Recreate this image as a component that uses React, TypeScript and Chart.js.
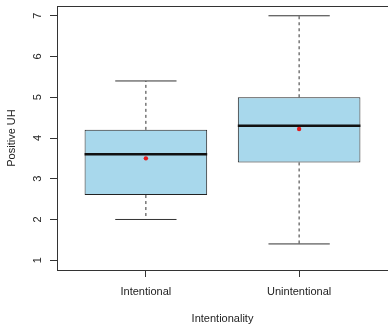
import React, { useEffect, useRef } from "react";
import { Chart, registerables } from "chart.js";

Chart.register(...registerables);

const categories = ["Intentional", "Unintentional"];
const q1 = [2.6, 3.4];
const medians = [3.6, 4.3];
const q3 = [4.2, 5.0];
const whiskerLow = [2.0, 1.4];
const whiskerHigh = [5.4, 7.0];
const means = [3.5, 4.22];
const yTicks = [1, 2, 3, 4, 5, 6, 7];
const xTitle = "Intentionality";
const yTitle = "Positive UH";

const BOX_HALF = 0.4;
const CAP_HALF = 0.2;

const frame = {
  id: "frame",
  afterDraw(chart: any) {
    const { ctx, chartArea } = chart;
    ctx.save();
    ctx.strokeStyle = "#333";
    ctx.lineWidth = 1;
    ctx.strokeRect(
      Math.round(chartArea.left) + 0.5,
      Math.round(chartArea.top) + 0.5,
      Math.round(chartArea.right - chartArea.left),
      Math.round(chartArea.bottom - chartArea.top)
    );
    ctx.restore();
  },
};

export default function App() {
  const ref = useRef<HTMLCanvasElement | null>(null);

  useEffect(() => {
    if (!ref.current) return;
    Chart.defaults.font.family = "'Liberation Sans', Arial, sans-serif";
    Chart.defaults.font.size = 11;
    Chart.defaults.color = "#222";

    const gap = (x: number) => ({ x, y: null as any });

    const boxes = categories.map((_, i) => ({ x: i + 1, y: [q1[i], q3[i]] }));
    const medianPts: any[] = [];
    const whiskerPts: any[] = [];
    const capPts: any[] = [];
    categories.forEach((_, i) => {
      const x = i + 1;
      medianPts.push({ x: x - BOX_HALF, y: medians[i] }, { x: x + BOX_HALF, y: medians[i] }, gap(x + 0.5));
      whiskerPts.push({ x, y: q3[i] }, { x, y: whiskerHigh[i] }, gap(x));
      whiskerPts.push({ x, y: q1[i] }, { x, y: whiskerLow[i] }, gap(x));
      capPts.push({ x: x - CAP_HALF, y: whiskerHigh[i] }, { x: x + CAP_HALF, y: whiskerHigh[i] }, gap(x));
      capPts.push({ x: x - CAP_HALF, y: whiskerLow[i] }, { x: x + CAP_HALF, y: whiskerLow[i] }, gap(x));
    });
    const meanPts = categories.map((_, i) => ({ x: i + 1, y: means[i] }));

    const chart = new Chart(ref.current, {
      type: "bar",
      data: {
        datasets: [
          {
            type: "line",
            data: whiskerPts,
            borderColor: "#333",
            borderWidth: 1,
            borderDash: [3, 3],
            pointRadius: 0,
            spanGaps: false,
            order: 5,
          } as any,
          {
            type: "line",
            data: capPts,
            borderColor: "#333",
            borderWidth: 1,
            pointRadius: 0,
            spanGaps: false,
            order: 4,
          } as any,
          {
            type: "bar",
            data: boxes,
            backgroundColor: "#A8D8EC",
            borderColor: "#222",
            borderWidth: 1,
            borderSkipped: false,
            categoryPercentage: 1,
            barPercentage: 0.8,
            order: 3,
          } as any,
          {
            type: "line",
            data: medianPts,
            borderColor: "#111",
            borderWidth: 2.5,
            pointRadius: 0,
            spanGaps: false,
            order: 2,
          } as any,
          {
            type: "line",
            data: meanPts,
            showLine: false,
            pointRadius: 2.2,
            pointBackgroundColor: "#E31A1C",
            pointBorderColor: "#E31A1C",
            pointBorderWidth: 0,
            order: 1,
          } as any,
        ],
      },
      options: {
        animation: false,
        responsive: false,
        events: [],
        layout: { padding: { top: 6, left: 0, right: 0, bottom: 0 } },
        plugins: {
          legend: { display: false },
          tooltip: { enabled: false },
        },
        scales: {
          x: {
            type: "linear",
            min: 0.42,
            max: 2.58,
            offset: false,
            afterBuildTicks: (s: any) => {
              s.ticks = categories.map((_, i) => ({ value: i + 1 }));
            },
            afterFit: (s: any) => {
              s.height = 58;
              s.paddingLeft = 0;
              s.paddingRight = 0;
            },
            grid: {
              display: true,
              offset: false,
              drawOnChartArea: false,
              drawTicks: true,
              tickLength: 7,
              color: "#333",
            },
            border: { display: false },
            ticks: {
              padding: 8,
              maxRotation: 0,
              minRotation: 0,
              callback: (v: any) => categories[Math.round(v) - 1] ?? "",
            },
            title: {
              display: true,
              text: xTitle,
              padding: { top: 0, bottom: 2 },
            },
          },
          y: {
            type: "linear",
            min: 0.76,
            max: 7.24,
            afterBuildTicks: (s: any) => {
              s.ticks = yTicks.map((v) => ({ value: v }));
            },
            afterFit: (s: any) => {
              s.width = 57;
              s.paddingTop = 0;
              s.paddingBottom = 0;
            },
            grid: {
              display: true,
              drawOnChartArea: false,
              drawTicks: true,
              tickLength: 7,
              color: "#333",
            },
            border: { display: false },
            ticks: {
              padding: 9,
              minRotation: 90,
              maxRotation: 90,
              crossAlign: "center",
              callback: (v: any) => String(v),
            },
            title: {
              display: true,
              text: yTitle,
              padding: { top: 5, bottom: 0 },
            },
          },
        },
      },
      plugins: [frame],
    } as any);

    return () => chart.destroy();
  }, []);

  return (
    <div
      style={{
        position: "fixed",
        left: 0,
        top: 0,
        width: 388,
        height: 328,
        overflow: "hidden",
        background: "#fff",
      }}
    >
      <canvas ref={ref} width={392} height={328} style={{ display: "block" }} />
    </div>
  );
}
